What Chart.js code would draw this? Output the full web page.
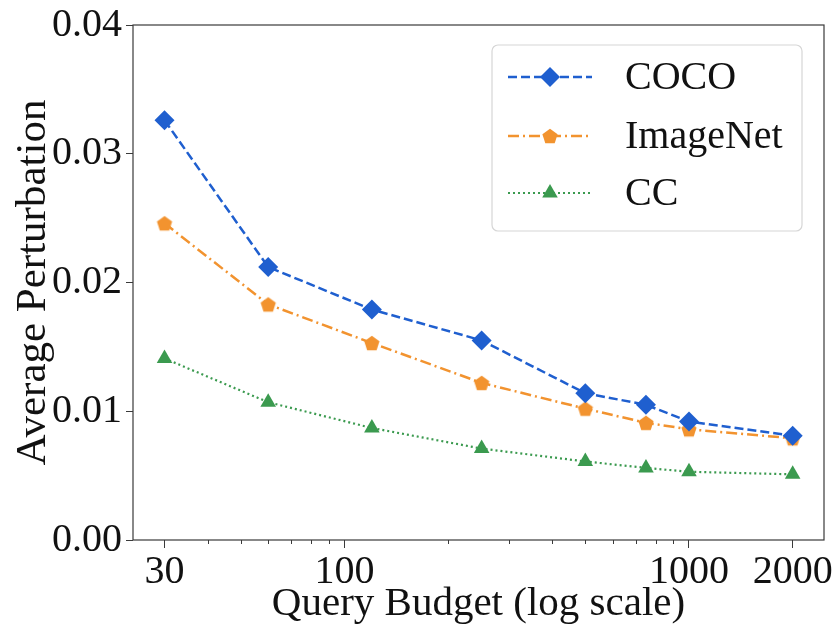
<!DOCTYPE html>
<html>
<head>
    <title>Average Perturbation vs Query Budget</title>
    <script src="https://cdn.jsdelivr.net/npm/chart.js"></script>
    <style>
        body {
            margin: 0;
            background-color: #ffffff;
        }
        #chart-container {
            width: 834px;
            height: 634px;
        }
    </style>
</head>
<body>

<div id="chart-container">
    <canvas id="perturbChart" width="834" height="634"></canvas>
</div>

<script>
// Query budgets (x) and average perturbation for each dataset
const budgets = [30, 60, 120, 250, 500, 750, 1000, 2000];
const cocoValues = [0.0326, 0.0212, 0.0179, 0.0155, 0.0114, 0.0105, 0.0092, 0.0081];
const imagenetValues = [0.0246, 0.0183, 0.0153, 0.0122, 0.0102, 0.0091, 0.0086, 0.0079];
const ccValues = [0.0141, 0.0107, 0.0087, 0.0071, 0.0061, 0.0056, 0.0053, 0.0051];

const xTickLabels = [30, 100, 1000, 2000];
const xMinorTicks = [40, 50, 60, 70, 80, 90, 200, 300, 400, 500, 600, 700, 800, 900];
const yTickLabels = [0.00, 0.01, 0.02, 0.03, 0.04];

const FONT = "'Liberation Serif', 'Times New Roman', serif";
const FONT_SIZE = 40;
const BLUE = '#1f5fcf';
const ORANGE = '#f2932f';
const GREEN = '#3b9a4f';

// pentagon marker (Chart.js has no built-in one)
function makePentagon(color, r) {
    const c = document.createElement('canvas');
    const s = Math.ceil(r * 2 + 2);
    c.width = s;
    c.height = s;
    const g = c.getContext('2d');
    g.fillStyle = color;
    g.beginPath();
    for (let i = 0; i < 5; i++) {
        const a = -Math.PI / 2 + i * 2 * Math.PI / 5;
        const px = s / 2 + r * Math.cos(a);
        const py = s / 2 + r * Math.sin(a) + r * 0.1;
        if (i === 0) g.moveTo(px, py); else g.lineTo(px, py);
    }
    g.closePath();
    g.fill();
    return c;
}
const pentagon = makePentagon(ORANGE, 8);

function toPoints(values) {
    return budgets.map((b, i) => ({ x: b, y: values[i] }));
}

// frame, minor ticks and the legend box
const decorations = {
    id: 'decorations',
    afterDatasetsDraw(chart) {
        const ctx = chart.ctx;
        const a = chart.chartArea;
        const xs = chart.scales.x;

        ctx.save();
        ctx.strokeStyle = '#3a3a3a';
        ctx.lineWidth = 1.2;
        ctx.strokeRect(a.left, a.top, a.right - a.left, a.bottom - a.top);

        ctx.lineWidth = 1;
        ctx.beginPath();
        xMinorTicks.forEach(v => {
            const px = Math.round(xs.getPixelForValue(v)) + 0.5;
            ctx.moveTo(px, a.bottom);
            ctx.lineTo(px, a.bottom + 4);
        });
        ctx.stroke();

        // legend
        const box = { x: 492, y: 45, w: 310, h: 186 };
        ctx.beginPath();
        ctx.roundRect(box.x, box.y, box.w, box.h, 6);
        ctx.fillStyle = 'rgba(255,255,255,0.85)';
        ctx.fill();
        ctx.strokeStyle = '#d6d6d6';
        ctx.lineWidth = 1.2;
        ctx.stroke();

        const rowY = [77, 136, 193];
        chart.data.datasets.forEach((ds, i) => {
            const y = rowY[i];
            ctx.save();
            ctx.strokeStyle = ds.borderColor;
            ctx.lineWidth = ds.borderWidth;
            ctx.setLineDash(ds.borderDash);
            ctx.beginPath();
            ctx.moveTo(508, y);
            ctx.lineTo(592, y);
            ctx.stroke();
            ctx.restore();
            ctx.save();
            ctx.fillStyle = ds.pointBackgroundColor;
            ctx.strokeStyle = ds.pointBackgroundColor;
            Chart.helpers.drawPoint(ctx, {
                pointStyle: ds.pointStyle,
                radius: ds.pointRadius,
                borderWidth: 0
            }, 550, y);
            ctx.restore();
            ctx.fillStyle = '#111111';
            ctx.font = FONT_SIZE + 'px ' + FONT;
            ctx.textBaseline = 'middle';
            ctx.textAlign = 'left';
            ctx.fillText(ds.label, 625, y + 1);
        });
        ctx.restore();
    }
};

const ctx = document.getElementById('perturbChart').getContext('2d');
new Chart(ctx, {
    type: 'line',
    data: {
        datasets: [
            {
                label: 'COCO',
                data: toPoints(cocoValues),
                borderColor: BLUE,
                backgroundColor: BLUE,
                pointBackgroundColor: BLUE,
                pointBorderWidth: 0,
                borderWidth: 2.5,
                borderDash: [9, 4],
                pointStyle: 'rectRot',
                pointRadius: 10,
                fill: false
            },
            {
                label: 'ImageNet',
                data: toPoints(imagenetValues),
                borderColor: ORANGE,
                backgroundColor: ORANGE,
                pointBackgroundColor: ORANGE,
                pointBorderWidth: 0,
                borderWidth: 2.5,
                borderDash: [11, 4, 2, 4],
                pointStyle: pentagon,
                pointRadius: 8,
                fill: false
            },
            {
                label: 'CC',
                data: toPoints(ccValues),
                borderColor: GREEN,
                backgroundColor: GREEN,
                pointBackgroundColor: GREEN,
                pointBorderWidth: 0,
                borderWidth: 2.2,
                borderDash: [2, 3],
                pointStyle: 'triangle',
                pointRadius: 9,
                fill: false
            }
        ]
    },
    options: {
        responsive: false,
        animation: false,
        layout: {
            padding: { top: 25, right: 9, left: 0, bottom: 0 }
        },
        plugins: {
            legend: { display: false },
            tooltip: { enabled: false }
        },
        scales: {
            x: {
                type: 'logarithmic',
                min: 24.3,
                max: 2466,
                afterBuildTicks(scale) {
                    scale.ticks = xTickLabels.map(v => ({ value: v }));
                },
                afterFit(scale) {
                    scale.height = 94;
                },
                grid: {
                    drawOnChartArea: false,
                    tickLength: 8,
                    tickColor: '#3a3a3a'
                },
                border: { display: false },
                ticks: {
                    autoSkip: false,
                    maxRotation: 0,
                    padding: 0,
                    color: '#111111',
                    font: { family: FONT, size: FONT_SIZE },
                    callback: v => String(v)
                },
                title: {
                    display: true,
                    text: 'Query Budget (log scale)',
                    color: '#111111',
                    font: { family: FONT, size: 41 },
                    padding: { top: 0, bottom: 5 }
                }
            },
            y: {
                min: 0,
                max: 0.04,
                afterBuildTicks(scale) {
                    scale.ticks = yTickLabels.map(v => ({ value: v }));
                },
                afterFit(scale) {
                    scale.width = 133;
                },
                grid: {
                    drawOnChartArea: false,
                    tickLength: 7,
                    tickColor: '#3a3a3a'
                },
                border: { display: false },
                ticks: {
                    padding: 4,
                    color: '#111111',
                    font: { family: FONT, size: FONT_SIZE, lineHeight: 1 },
                    callback: v => v.toFixed(2)
                },
                title: {
                    display: true,
                    text: 'Average Perturbation',
                    color: '#111111',
                    font: { family: FONT, size: 43 },
                    padding: { top: 8, bottom: 0 }
                }
            }
        }
    },
    plugins: [decorations]
});
</script>

</body>
</html>
